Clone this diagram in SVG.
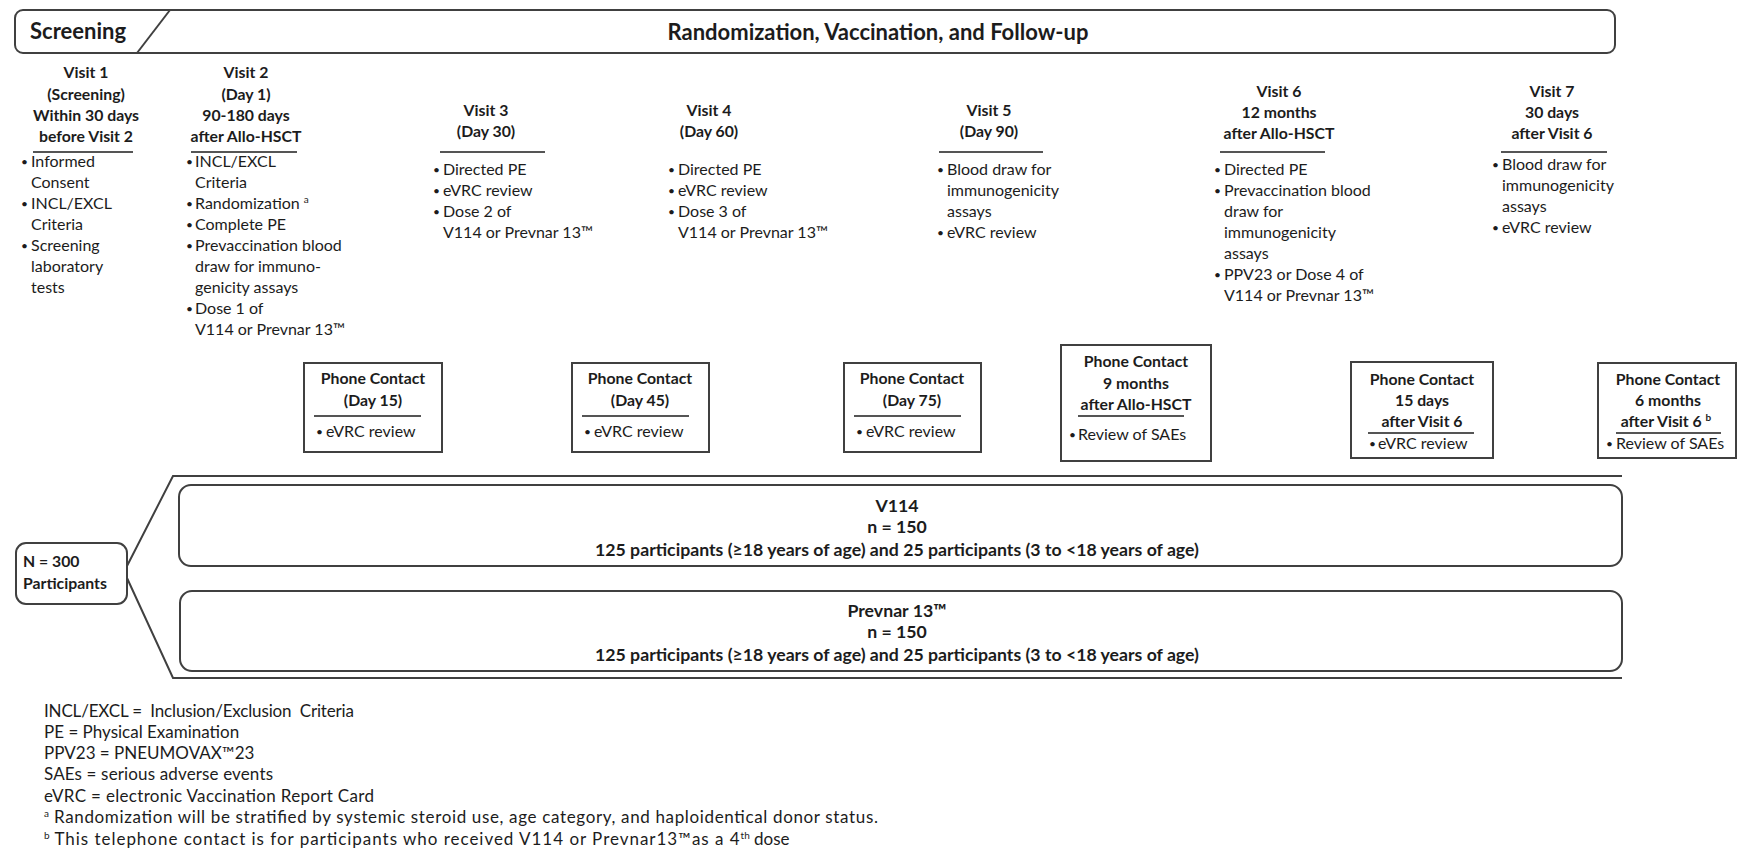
<svg xmlns="http://www.w3.org/2000/svg" width="1738" height="862" viewBox="0 0 1738 862">
<style>
text{font-family:Lato,"Open Sans","Liberation Sans",sans-serif;fill:#1c1c1c}
.t{font-size:22px;font-weight:bold}
.h{font-size:15.8px;font-weight:bold;text-anchor:middle}
.b{font-size:16px}
.d{font-size:12px}
.n{font-size:15.8px;font-weight:bold}
.c{font-size:15.8px;font-weight:bold;text-anchor:middle}
.a{font-size:17.7px;font-weight:bold;text-anchor:middle}
.lg{font-size:17px}
.ul{stroke:#555;stroke-width:2}
.box{fill:#fff;stroke:#404040;stroke-width:2}
.rb{fill:#fff;stroke:#404040;stroke-width:2}
.wire{fill:none;stroke:#404040;stroke-width:2}
.sup{font-size:10px}
</style>
<g id="banner">
<rect x="15" y="10" width="1600" height="43" rx="8" class="rb"/>
<line x1="170" y1="10" x2="137" y2="53" class="wire"/>
<text x="30" y="39" class="t">Screening</text>
<text x="878" y="40" class="t" text-anchor="middle">Randomization, Vaccination, and Follow-up</text>
</g>
<g id="visit1">
<text class="h"><tspan x="86" y="78">Visit 1</tspan><tspan x="86" y="100">(Screening)</tspan><tspan x="86" y="121">Within 30 days</tspan><tspan x="86" y="142">before Visit 2</tspan></text>
<line x1="33" y1="152" x2="133" y2="152" class="ul"/>
<text class="d"><tspan x="21" y="166">•</tspan><tspan x="21" y="208">•</tspan><tspan x="21" y="250">•</tspan></text>
<text class="b"><tspan x="31" y="167">Informed</tspan><tspan x="31" y="188">Consent</tspan><tspan x="31" y="209">INCL/EXCL</tspan><tspan x="31" y="230">Criteria</tspan><tspan x="31" y="251">Screening</tspan><tspan x="31" y="272">laboratory</tspan><tspan x="31" y="293">tests</tspan></text>
</g>
<g id="visit2">
<text class="h"><tspan x="246" y="78">Visit 2</tspan><tspan x="246" y="100">(Day 1)</tspan><tspan x="246" y="121">90-180 days</tspan><tspan x="246" y="142">after Allo-HSCT</tspan></text>
<line x1="191" y1="152" x2="297" y2="152" class="ul"/>
<text class="d"><tspan x="186" y="166">•</tspan><tspan x="186" y="208">•</tspan><tspan x="186" y="229">•</tspan><tspan x="186" y="250">•</tspan><tspan x="186" y="313">•</tspan></text>
<text class="b"><tspan x="195" y="167">INCL/EXCL</tspan><tspan x="195" y="188">Criteria</tspan><tspan x="195" y="209">Randomization </tspan><tspan class="sup" dy="-6">a</tspan><tspan x="195" y="230">Complete PE</tspan><tspan x="195" y="251">Prevaccination blood</tspan><tspan x="195" y="272">draw for immuno-</tspan><tspan x="195" y="293">genicity assays</tspan><tspan x="195" y="314">Dose 1 of</tspan><tspan x="195" y="335">V114 or Prevnar 13™</tspan></text>
</g>
<g id="visit3">
<text class="h"><tspan x="486" y="116">Visit 3</tspan><tspan x="486" y="137">(Day 30)</tspan></text>
<line x1="440" y1="152" x2="545" y2="152" class="ul"/>
<text class="d"><tspan x="433" y="174">•</tspan><tspan x="433" y="195">•</tspan><tspan x="433" y="216">•</tspan></text>
<text class="b"><tspan x="443" y="175">Directed PE</tspan><tspan x="443" y="196">eVRC review</tspan><tspan x="443" y="217">Dose 2 of</tspan><tspan x="443" y="238">V114 or Prevnar 13™</tspan></text>
</g>
<g id="visit4">
<text class="h"><tspan x="709" y="116">Visit 4</tspan><tspan x="709" y="137">(Day 60)</tspan></text>
<text class="d"><tspan x="668" y="174">•</tspan><tspan x="668" y="195">•</tspan><tspan x="668" y="216">•</tspan></text>
<text class="b"><tspan x="678" y="175">Directed PE</tspan><tspan x="678" y="196">eVRC review</tspan><tspan x="678" y="217">Dose 3 of</tspan><tspan x="678" y="238">V114 or Prevnar 13™</tspan></text>
</g>
<g id="visit5">
<text class="h"><tspan x="989" y="116">Visit 5</tspan><tspan x="989" y="137">(Day 90)</tspan></text>
<line x1="939" y1="152" x2="1043" y2="152" class="ul"/>
<text class="d"><tspan x="937" y="174">•</tspan><tspan x="937" y="237">•</tspan></text>
<text class="b"><tspan x="947" y="175">Blood draw for</tspan><tspan x="947" y="196">immunogenicity</tspan><tspan x="947" y="217">assays</tspan><tspan x="947" y="238">eVRC review</tspan></text>
</g>
<g id="visit6">
<text class="h"><tspan x="1279" y="97">Visit 6</tspan><tspan x="1279" y="118">12 months</tspan><tspan x="1279" y="139">after Allo-HSCT</tspan></text>
<line x1="1220" y1="152" x2="1325" y2="152" class="ul"/>
<text class="d"><tspan x="1214" y="174">•</tspan><tspan x="1214" y="195">•</tspan><tspan x="1214" y="279">•</tspan></text>
<text class="b"><tspan x="1224" y="175">Directed PE</tspan><tspan x="1224" y="196">Prevaccination blood</tspan><tspan x="1224" y="217">draw for</tspan><tspan x="1224" y="238">immunogenicity</tspan><tspan x="1224" y="259">assays</tspan><tspan x="1224" y="280">PPV23 or Dose 4 of</tspan><tspan x="1224" y="301">V114 or Prevnar 13™</tspan></text>
</g>
<g id="visit7">
<text class="h"><tspan x="1552" y="97">Visit 7</tspan><tspan x="1552" y="118">30 days</tspan><tspan x="1552" y="139">after Visit 6</tspan></text>
<line x1="1501" y1="152" x2="1607" y2="152" class="ul"/>
<text class="d"><tspan x="1492" y="169">•</tspan><tspan x="1492" y="232">•</tspan></text>
<text class="b"><tspan x="1502" y="170">Blood draw for</tspan><tspan x="1502" y="191">immunogenicity</tspan><tspan x="1502" y="212">assays</tspan><tspan x="1502" y="233">eVRC review</tspan></text>
</g>
<g id="phone1">
<rect x="304" y="363" width="138" height="89" class="box"/>
<text class="c"><tspan x="373" y="384">Phone Contact</tspan><tspan x="373" y="406">(Day 15)</tspan></text>
<line x1="314" y1="416" x2="421" y2="416" class="ul"/>
<text class="d" x="316" y="436">•</text><text class="b" x="326" y="437">eVRC review</text>
</g>
<g id="phone2">
<rect x="572" y="363" width="137" height="89" class="box"/>
<text class="c"><tspan x="640" y="384">Phone Contact</tspan><tspan x="640" y="406">(Day 45)</tspan></text>
<line x1="582" y1="416" x2="689" y2="416" class="ul"/>
<text class="d" x="584" y="436">•</text><text class="b" x="594" y="437">eVRC review</text>
</g>
<g id="phone3">
<rect x="844" y="363" width="137" height="89" class="box"/>
<text class="c"><tspan x="912" y="384">Phone Contact</tspan><tspan x="912" y="406">(Day 75)</tspan></text>
<line x1="854" y1="416" x2="961" y2="416" class="ul"/>
<text class="d" x="856" y="436">•</text><text class="b" x="866" y="437">eVRC review</text>
</g>
<g id="phone4">
<rect x="1061" y="345" width="150" height="116" class="box"/>
<text class="c"><tspan x="1136" y="367">Phone Contact</tspan><tspan x="1136" y="389">9 months</tspan><tspan x="1136" y="410">after Allo-HSCT</tspan></text>
<line x1="1078" y1="416" x2="1184" y2="416" class="ul"/>
<text class="d" x="1069" y="439">•</text><text class="b" x="1078" y="440">Review of SAEs</text>
</g>
<g id="phone5">
<rect x="1351" y="362" width="142" height="96" class="box"/>
<text class="c"><tspan x="1422" y="385">Phone Contact</tspan><tspan x="1422" y="406">15 days</tspan><tspan x="1422" y="427">after Visit 6</tspan></text>
<line x1="1368" y1="433" x2="1474" y2="433" class="ul"/>
<text class="d" x="1369" y="448">•</text><text class="b" x="1378" y="449">eVRC review</text>
</g>
<g id="phone6">
<rect x="1598" y="363" width="138" height="95" class="box"/>
<text class="c"><tspan x="1668" y="385">Phone Contact</tspan><tspan x="1668" y="406">6 months</tspan><tspan x="1666" y="427">after Visit 6 </tspan><tspan class="sup" dy="-6">b</tspan></text>
<line x1="1616" y1="433" x2="1721" y2="433" class="ul"/>
<text class="d" x="1606" y="448">•</text><text class="b" x="1616" y="449">Review of SAEs</text>
</g>
<g id="connectors">
<path d="M127,566 L173,476 L1622,476" class="wire"/>
<path d="M127,578 L173,678 L1622,678" class="wire"/>
</g>
<g id="total">
<rect x="16" y="543" width="111" height="61" rx="10" class="rb"/>
<text class="n"><tspan x="23" y="567">N = 300</tspan><tspan x="23" y="589">Participants</tspan></text>
</g>
<g id="armV114">
<rect x="179" y="485" width="1443" height="81" rx="12" class="rb"/>
<text class="a"><tspan x="897" y="512">V114</tspan><tspan x="897" y="533">n = 150</tspan><tspan x="897" y="556">125 participants (≥18 years of age) and 25 participants (3 to &lt;18 years of age)</tspan></text>
</g>
<g id="armPrevnar">
<rect x="180" y="591" width="1442" height="80" rx="12" class="rb"/>
<text class="a"><tspan x="897" y="617">Prevnar 13™</tspan><tspan x="897" y="638">n = 150</tspan><tspan x="897" y="661">125 participants (≥18 years of age) and 25 participants (3 to &lt;18 years of age)</tspan></text>
</g>
<g id="legend">
<text class="lg" x="44" y="717" xml:space="preserve" textLength="310">INCL/EXCL =  Inclusion/Exclusion  Criteria</text>
<text class="lg" x="44" y="738">PE = Physical Examination</text>
<text class="lg" x="44" y="759">PPV23 = PNEUMOVAX™23</text>
<text class="lg" x="44" y="780" textLength="229">SAEs = serious adverse events</text>
<text class="lg" x="44" y="802" textLength="330">eVRC = electronic Vaccination Report Card</text>
<text class="lg" x="44" y="823"><tspan class="sup" dy="-6">a</tspan><tspan dy="6" textLength="829"> Randomization will be stratified by systemic steroid use, age category, and haploidentical donor status.</tspan></text>
<text class="lg" x="44" y="845"><tspan class="sup" dy="-6">b</tspan><tspan dy="6" textLength="690"> This telephone contact is for participants who received V114 or Prevnar13™as a 4</tspan><tspan class="sup" dy="-6">th</tspan><tspan dy="6"> dose</tspan></text>
</g>
</svg>
